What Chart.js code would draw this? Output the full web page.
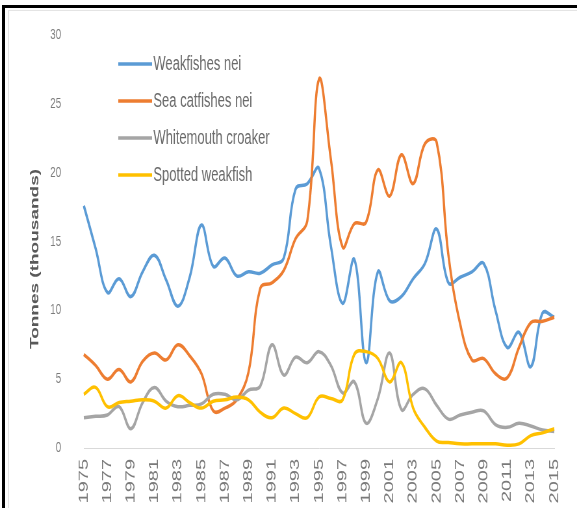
<!DOCTYPE html>
<html>
<head>
<meta charset="utf-8">
<title>Catches of weakfishes, sea catfishes and croakers, 1975-2015</title>
<script src="https://cdn.jsdelivr.net/npm/chart.js@4.4.1/dist/chart.umd.min.js"></script>
<style>
  html, body { margin: 0; padding: 0; background: #fff; width: 577px; height: 508px; overflow: hidden; position: relative; }
  /* the chart is laid out on a wider canvas and displayed condensed horizontally */
  #c { position: absolute; left: 0; top: 0; transform: scaleX(0.6498); transform-origin: 0 0; }
  .inner { position: absolute; left: 8px; top: 10px; right: 0; bottom: 0; border-left: 1px solid #e4e4e4; border-top: 1px solid #e4e4e4; }
  .frame-top { position: absolute; left: 2px; top: 5px; width: 575px; height: 3px; background: #000; }
  .frame-left { position: absolute; left: 2px; top: 5px; width: 3px; height: 503px; background: #000; }
</style>
</head>
<body>
<canvas id="c" width="888" height="508"></canvas>
<div class="inner"></div>
<div class="frame-top"></div>
<div class="frame-left"></div>
<script>
// Years on the category axis
const years = ['1975','1976','1977','1978','1979','1980','1981','1982','1983','1984',
               '1985','1986','1987','1988','1989','1990','1991','1992','1993','1994',
               '1995','1996','1997','1998','1999','2000','2001','2002','2003','2004',
               '2005','2006','2007','2008','2009','2010','2011','2012','2013','2014','2015'];

// Catches, tonnes (thousands)
const weakfishesNei = [17.6, 14.5, 11.3, 12.3, 11.0, 12.8, 14.0, 12.2, 10.3, 12.4,
                       16.2, 13.2, 13.8, 12.5, 12.8, 12.7, 13.3, 13.8, 18.8, 19.2,
                       20.3, 14.7, 10.5, 13.7, 6.2, 12.8, 10.7, 11.0, 12.3, 13.4,
                       15.9, 12.0, 12.4, 12.8, 13.4, 10.0, 7.3, 8.4, 5.9, 9.8, 9.5];

const seaCatfishesNei = [6.8, 6.0, 5.0, 5.7, 4.8, 6.3, 6.9, 6.4, 7.5, 6.7,
                         5.4, 2.7, 2.9, 3.5, 5.5, 11.6, 12.0, 12.9, 15.2, 16.5,
                         26.8, 21.0, 14.6, 16.3, 16.4, 20.2, 18.3, 21.3, 19.2, 22.1,
                         22.2, 14.0, 9.0, 6.4, 6.5, 5.4, 5.1, 7.3, 9.1, 9.2, 9.5];

const whitemouthCroaker = [2.2, 2.3, 2.4, 3.0, 1.4, 3.3, 4.4, 3.4, 3.0, 3.1,
                           3.2, 3.9, 3.9, 3.5, 4.2, 4.5, 7.5, 5.3, 6.6, 6.2,
                           7.0, 6.0, 4.0, 4.8, 1.8, 3.6, 6.9, 2.8, 3.9, 4.3,
                           3.1, 2.1, 2.4, 2.6, 2.7, 1.7, 1.5, 1.8, 1.6, 1.3, 1.2];

const spottedWeakfish = [3.9, 4.4, 3.0, 3.3, 3.4, 3.5, 3.4, 2.9, 3.8, 3.3,
                         2.9, 3.4, 3.5, 3.7, 3.5, 2.6, 2.2, 2.9, 2.5, 2.2,
                         3.7, 3.6, 3.5, 6.8, 7.0, 6.5, 4.8, 6.2, 2.9, 1.5,
                         0.5, 0.4, 0.3, 0.3, 0.3, 0.3, 0.2, 0.3, 0.9, 1.1, 1.4];

const yTicks = [0, 5, 10, 15, 20, 25, 30];
const yTitle = 'Tonnes (thousands)';

const FONT = '"Liberation Sans", Arial, "DejaVu Sans", sans-serif';

// Legend drawn inside the plot, top-left
const insetLegend = {
  id: 'insetLegend',
  afterDatasetsDraw(chart) {
    const ctx = chart.ctx;
    const rows = [64, 101, 138, 175];
    ctx.save();
    ctx.font = '20px ' + FONT;
    ctx.textBaseline = 'middle';
    ctx.textAlign = 'left';
    chart.data.datasets.forEach((ds, i) => {
      const y = rows[i];
      ctx.strokeStyle = ds.borderColor;
      ctx.lineWidth = 3.5;
      ctx.beginPath();
      ctx.moveTo(182, y);
      ctx.lineTo(234, y);
      ctx.stroke();
      ctx.fillStyle = '#6a6a6a';
      ctx.fillText(ds.label, 236, y);
    });
    ctx.restore();
  }
};

// Rotated y-axis title
const axisTitle = {
  id: 'axisTitle',
  afterDraw(chart) {
    const ctx = chart.ctx;
    ctx.save();
    ctx.translate(54, 259);
    ctx.rotate(-Math.PI / 2);
    ctx.font = 'bold 19px ' + FONT;
    ctx.fillStyle = '#595959';
    ctx.textAlign = 'center';
    ctx.textBaseline = 'middle';
    ctx.fillText(yTitle, 0, 0);
    ctx.restore();
  }
};

const lineStyle = { borderWidth: 3.5, pointRadius: 0, pointHoverRadius: 0, tension: 0.4, fill: false };

new Chart(document.getElementById('c'), {
  type: 'line',
  data: {
    labels: years,
    datasets: [
      Object.assign({ label: 'Weakfishes nei', data: weakfishesNei, borderColor: '#5B9BD5', backgroundColor: '#5B9BD5', order: 3 }, lineStyle),
      Object.assign({ label: 'Sea catfishes nei', data: seaCatfishesNei, borderColor: '#ED7D31', backgroundColor: '#ED7D31', order: 2 }, lineStyle),
      Object.assign({ label: 'Whitemouth croaker', data: whitemouthCroaker, borderColor: '#A5A5A5', backgroundColor: '#A5A5A5', order: 1 }, lineStyle),
      Object.assign({ label: 'Spotted weakfish', data: spottedWeakfish, borderColor: '#FFC000', backgroundColor: '#FFC000', order: 0 }, lineStyle)
    ]
  },
  options: {
    responsive: false,
    animation: false,
    devicePixelRatio: 1,
    layout: { padding: { left: 0, right: 14, top: 35, bottom: 0 } },
    plugins: {
      legend: { display: false },
      tooltip: { enabled: false },
      title: { display: false }
    },
    scales: {
      x: {
        type: 'category',
        offset: false,
        grid: { display: false, drawTicks: false },
        border: { display: true, color: '#d9d9d9', width: 1 },
        ticks: {
          autoSkip: false,
          minRotation: 90,
          maxRotation: 90,
          padding: 11,
          color: '#7a7a7a',
          font: { family: FONT, size: 20 },
          callback: function (value, index) {
            return index % 2 === 0 ? this.getLabelForValue(value) : '';
          }
        },
        afterFit(scale) { scale.height = 60; }
      },
      y: {
        min: yTicks[0],
        max: yTicks[yTicks.length - 1],
        // tick marks are not drawn; their length only spaces the labels off the plot
        grid: { display: false, drawTicks: true, tickLength: 27 },
        border: { display: false },
        ticks: {
          stepSize: 5,
          padding: 8,
          color: '#7a7a7a',
          font: { family: FONT, size: 15 }
        },
        afterFit(scale) { scale.width = 129; }
      }
    }
  },
  plugins: [insetLegend, axisTitle]
});
</script>
</body>
</html>
